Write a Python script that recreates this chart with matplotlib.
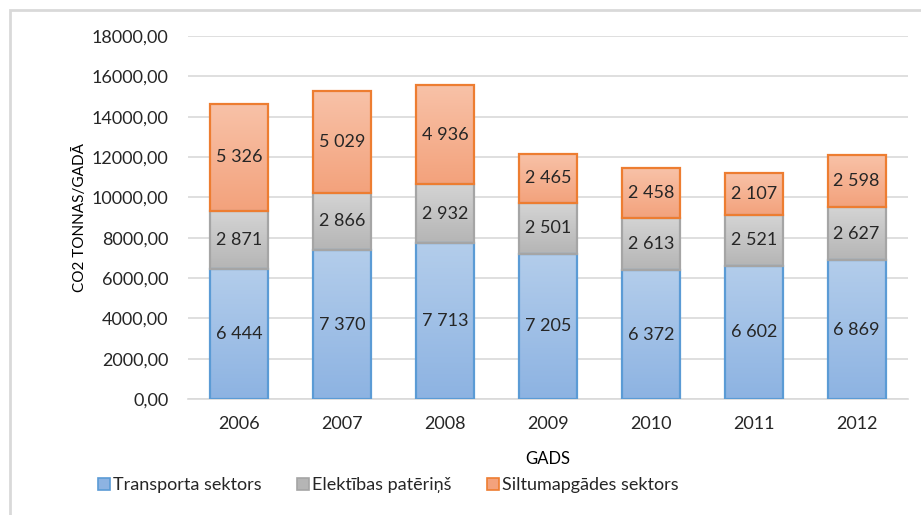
import numpy as np
import matplotlib.pyplot as plt
from matplotlib.patches import Rectangle, Patch
from matplotlib.colors import LinearSegmentedColormap

plt.rcParams['font.family'] = ['Lato', 'DejaVu Sans']

years = ['2006', '2007', '2008', '2009', '2010', '2011', '2012']
transport = [6444, 7370, 7713, 7205, 6372, 6602, 6869]
elektr = [2871, 2866, 2932, 2501, 2613, 2521, 2627]
siltum = [5326, 5029, 4936, 2465, 2458, 2107, 2598]
names = ['Transporta sektors', 'Elektības patēriņš', 'Siltumapgādes sektors']

# (augša, apakša, mala)
styles = [
    ('#B3CDEB', '#8DB3E2', '#5B9BD5'),
    ('#D4D4D4', '#B5B5B5', '#A5A5A5'),
    ('#F8C2A8', '#F3A27C', '#ED7D31'),
]

def fmt_num(v):
    return '{:,}'.format(v).replace(',', ' ')

fig = plt.figure(figsize=(9.21, 5.15), dpi=100)
ax = fig.add_axes([188/921, 1-399/515, 720/921, 363/515])

x = np.arange(len(years))
w = 0.565
bottom = np.zeros(len(years))
grad = np.linspace(0, 1, 100).reshape(-1, 1)
for serie, (ctop, cbot, cedge) in zip([transport, elektr, siltum], styles):
    cmap = LinearSegmentedColormap.from_list('g', [cbot, ctop])
    for i, v in enumerate(serie):
        b = bottom[i]
        rect = Rectangle((x[i]-w/2, b), w, v, facecolor='none',
                         edgecolor=cedge, linewidth=1.6, zorder=3)
        ax.add_patch(rect)
        im = ax.imshow(grad, cmap=cmap, aspect='auto', origin='lower',
                       extent=(x[i]-w/2, x[i]+w/2, b, b+v), zorder=2)
        im.set_clip_path(rect)
        ax.text(x[i], b+v/2, fmt_num(v), ha='center', va='center',
                fontsize=13, color='#262626', zorder=4)
    bottom += np.array(serie)

ax.set_xlim(-0.5, 6.5)
ax.set_ylim(0, 18000)
ax.set_yticks(np.arange(0, 18001, 2000))
ax.set_yticklabels(['{:.2f}'.format(t).replace('.', ',') for t in np.arange(0, 18001, 2000)])
ax.set_xticks(x)
ax.set_xticklabels(years)
ax.grid(axis='y', color='#D9D9D9', linewidth=1.2, zorder=0)
ax.set_axisbelow(True)
for s in ['top', 'right', 'left']:
    ax.spines[s].set_visible(False)
ax.spines['bottom'].set_color('#D9D9D9')
ax.spines['bottom'].set_linewidth(1.2)
ax.tick_params(axis='both', length=0, labelsize=13, colors='#262626')
ax.tick_params(axis='x', pad=12)
ax.tick_params(axis='y', pad=14)
ax.set_ylabel('CO2 TONNAS/GADĀ', fontsize=11, color='#000000')
ax.yaxis.set_label_coords((87-188)/720, 0.5)
ax.set_xlabel('GADS', fontsize=12, color='#000000')
ax.xaxis.set_label_coords(0.5, -(451-399)/363)

handles = [Patch(facecolor=s[1], edgecolor=s[2], linewidth=1.2) for s in styles]
fig.legend(handles, names, loc='center left', bbox_to_anchor=(82/921, 1-485/515),
           ncol=3, frameon=False, fontsize=13, handlelength=0.65, handleheight=0.65,
           handletextpad=0.15, columnspacing=2.0, labelcolor='#262626')

# ārējā rāmja līnija
fig.patches.append(Rectangle((10/921, -0.1), 1.2, 1-10/515+0.1, transform=fig.transFigure,
                             fill=False, edgecolor='#D9D9D9', linewidth=2))

fig.savefig('out.png', dpi=100)
